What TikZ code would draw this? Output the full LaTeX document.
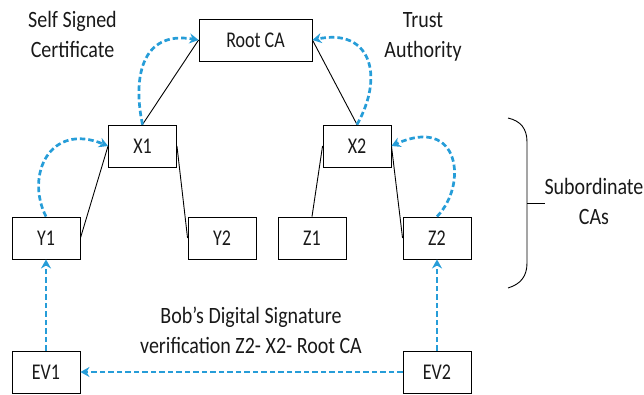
\documentclass[tikz,border=0pt]{standalone}
\usepackage{fontspec}
\setmainfont{Carlito}
\usepackage{graphicx}
\usetikzlibrary{arrows.meta}
\definecolor{linkblue}{RGB}{38,157,216}
\definecolor{inkgray}{RGB}{25,25,25}
% tall, narrow lettering used throughout
\newcommand\tallbox[1]{\scalebox{1}[1.25]{#1}}
\newcommand\talltext[1]{\scalebox{1}[1.17]{#1}}

\begin{document}
\begin{tikzpicture}[x=1pt,y=-1pt,
  ca/.style={draw=black, line width=0.9pt, minimum width=68pt, minimum height=42pt,
    inner sep=0pt, text=inkgray, font=\fontsize{18}{20}\selectfont},
  note/.style={anchor=base, inner sep=0pt, text=inkgray, font=\fontsize{20}{24}\selectfont},
  tree/.style={draw=black, line width=0.9pt},
  verify/.style={draw=linkblue, line width=2.7pt, dash pattern=on 5.5pt off 3pt,
    -{Stealth[length=9pt,width=10pt]}}
]
\useasboundingbox (0,0) rectangle (644,394);

% certificate authorities
\node[ca, minimum width=113pt] (root) at (255.5,40) {\tallbox{Root CA}};
\node[ca] (x1)  at (142.5,146) {\tallbox{X1}};
\node[ca] (x2)  at (357,146)   {\tallbox{X2}};
\node[ca] (y1)  at (46,238)    {\tallbox{Y1}};
\node[ca] (y2)  at (222,238)   {\tallbox{Y2}};
\node[ca] (z1)  at (312,238)   {\tallbox{Z1}};
\node[ca] (z2)  at (437,238)   {\tallbox{Z2}};
\node[ca] (ev1) at (46,372)    {\tallbox{EV1}};
\node[ca] (ev2) at (437,372)   {\tallbox{EV2}};

% hierarchy
\draw[tree] (x1.north) -- (root.west);
\draw[tree] (x2.north) -- (root.east);
\draw[tree] (x1.west) -- (y1.east);
\draw[tree] (x1.east) -- (y2.west);
\draw[tree] (x2.west) -- (z1.north);
\draw[tree] (x2.east) -- (z2.west);

% verification paths
\draw[verify] (x1.north) .. controls (133,80) and (140,30) .. (root.west);
\draw[verify] (y1.north) .. controls (25,175) and (50,122) .. (x1.west);
\draw[verify] (x2.north) .. controls (385,75) and (370,28) .. (root.east);
\draw[verify] (z2.north) .. controls (468,185) and (460,115) .. (x2.east);
\draw[verify] (ev1.north) -- (y1.south);
\draw[verify] (ev2.north) -- (z2.south);
\draw[verify] (ev2.west) -- (ev1.east);

% brace around the subordinate level
\draw[tree] (508,118) .. controls (521,121) and (527,129) .. (527,142) -- (527,263)
  .. controls (527,276) and (521,284) .. (508,288);
\draw[tree] (527,203) -- (545,203);

% labels
\node[note] (self1) at (72.5,27)  {\talltext{Self Signed}};
\node[note] (self2) at (72.5,57)  {\talltext{Certificate}};
\node[note] (trust1) at (423,27)  {\talltext{Trust}};
\node[note] (trust2) at (423,57)  {\talltext{Authority}};
\node[note] (sub1) at (594,194)   {\talltext{Subordinate}};
\node[note] (sub2) at (594,224)   {\talltext{CAs}};
\node[note] (bob1) at (251,323)   {\talltext{Bob’s Digital Signature}};
\node[note] (bob2) at (251,353)   {\talltext{verification Z2- X2- Root CA}};
\end{tikzpicture}
\end{document}
